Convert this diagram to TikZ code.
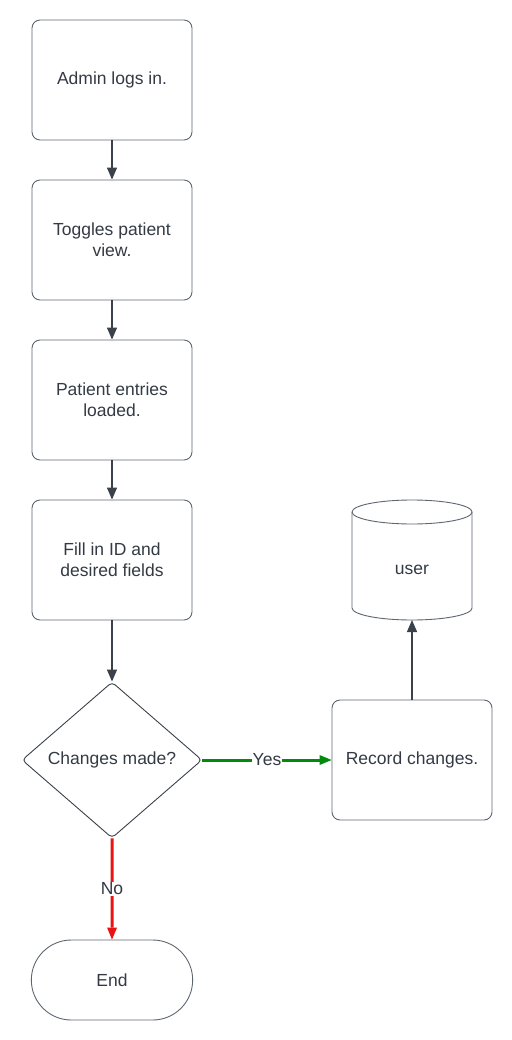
\documentclass[tikz,border=0pt]{standalone}
\usepackage{fontspec}
\setmainfont{Liberation Sans}
\usetikzlibrary{arrows.meta,shapes.geometric,shapes.misc}
\definecolor{linegray}{HTML}{3A414A}
\definecolor{boxgray}{HTML}{5E6670}
\definecolor{txtgray}{HTML}{333A44}
\definecolor{yesgreen}{HTML}{008A0E}
\definecolor{nored}{HTML}{E81313}
\begin{document}
\begin{tikzpicture}[
    x=1pt, y=-1pt,
    every node/.style={font=\fontsize{17.5}{21}\selectfont, text=txtgray},
    stepbox/.style={draw=boxgray, rounded corners=8pt, minimum width=160pt, minimum height=120pt, align=center, line width=0.9pt},
    decision/.style={diamond, draw=linegray, rounded corners=4pt, minimum width=180pt, minimum height=156pt, inner sep=0pt, line width=0.9pt},
    store/.style={draw=boxgray, line width=0.9pt},
    stopbox/.style={rounded rectangle, draw=boxgray, minimum width=168pt, minimum height=80pt, line width=0.9pt},
    flow/.style={draw=linegray, line width=1.3pt, -{Triangle[length=12pt,width=10pt]}},
    lbl/.style={fill=white, inner sep=1pt}
]

\useasboundingbox (0,0) rectangle (511,1040);

\node[stepbox] (login) at (112,80) {Admin logs in.};
\node[stepbox] (toggle) at (112,240) {Toggles patient\\view.};
\node[stepbox] (load) at (112,400) {Patient entries\\loaded.};
\node[stepbox] (fill) at (112,560) {Fill in ID and\\desired fields};
\node[decision] (changed) at (112,760) {Changes made?};
\node[stepbox] (record) at (412,760) {Record changes.};
\node[stopbox] (done) at (112,980) {End};

% user table drawn as a cylinder
\draw[store] (412,512) ellipse [x radius=60, y radius=12];
\draw[store] (352,512) -- (352,608) arc [start angle=180, end angle=0, x radius=60, y radius=12] -- (472,512);
\node (user) at (412,570) {user};
\coordinate (userbase) at (412,620);

\draw[flow] (login) -- (toggle);
\draw[flow] (toggle) -- (load);
\draw[flow] (load) -- (fill);
\draw[flow] (fill) -- (changed);
\draw[flow, draw=yesgreen, line width=3pt, -{Triangle[length=12pt,width=10pt,fill=yesgreen,line width=0pt]}] (changed) -- node[lbl] {Yes} (record);
\draw[flow, draw=nored, line width=3pt, -{Triangle[length=12pt,width=10pt,fill=nored,line width=0pt]}] (changed) -- node[lbl] {No} (done);
\draw[flow] (record) -- (userbase);

\end{tikzpicture}
\end{document}
